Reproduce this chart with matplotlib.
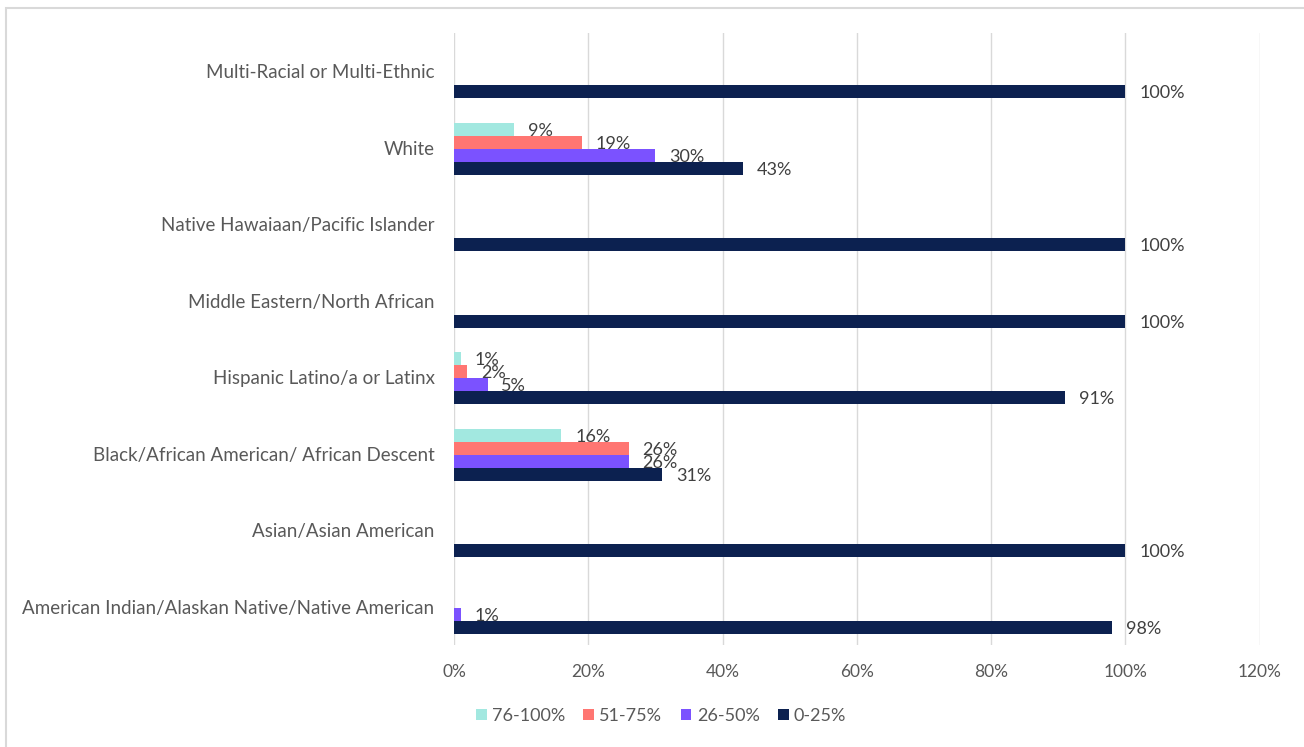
import numpy as np
import matplotlib.pyplot as plt
from matplotlib.patches import Rectangle

plt.rcParams['font.family'] = ['Lato', 'DejaVu Sans']

# data (bottom to top on the chart)
categories = ['American Indian/Alaskan Native/Native American',
              'Asian/Asian American',
              'Black/African American/ African Descent',
              'Hispanic Latino/a or Latinx',
              'Middle Eastern/North African',
              'Native Hawaiaan/Pacific Islander',
              'White',
              'Multi-Racial or Multi-Ethnic']
series = ['0-25%', '26-50%', '51-75%', '76-100%']
vals_0_25 = [98, 100, 31, 91, 100, 100, 43, 100]
vals_26_50 = [1, 0, 26, 5, 0, 0, 30, 0]
vals_51_75 = [0, 0, 26, 2, 0, 0, 19, 0]
vals_76_100 = [0, 0, 16, 1, 0, 0, 9, 0]
colors = ['#0c2150', '#7b52ff', '#ff7672', '#a2e8e0']

all_vals = [vals_0_25, vals_26_50, vals_51_75, vals_76_100]

fig = plt.figure(figsize=(13.04, 7.47), dpi=100)
ax = fig.add_axes([454/1304, 1-645/747, (1259.5-454)/1304, (645-33)/747])

# light frame around the chart
fig.patches.append(Rectangle((6/1304, -0.05), 1.1, 1-8/747+0.05, transform=fig.transFigure,
                             fill=False, edgecolor='#d9d9d9', linewidth=1.5))

y = np.arange(len(categories))
h = 0.17
handles = []
for i, (vals, c, name) in enumerate(zip(all_vals, colors, series)):
    pos = y - 1.5*h + i*h - 0.015
    bars = ax.barh(pos, vals, height=h, color=c, label=name, zorder=3)
    handles.append(bars)
    for p, v in zip(pos, vals):
        if v > 0:
            ax.annotate(f'{v}%', (v, p), xytext=(10, -1), textcoords='offset points',
                        va='center', ha='left', fontsize=13, color='#404040')

ax.set_xlim(0, 120)
ax.set_ylim(-0.5, len(categories)-0.5)
ax.set_xticks(np.arange(0, 121, 20))
ax.set_xticklabels([f'{t}%' for t in range(0, 121, 20)], fontsize=12.5, color='#595959')
ax.set_yticks(y)
ax.set_yticklabels(categories, fontsize=13.5, color='#595959')
ax.tick_params(length=0, axis='y', pad=14)
ax.tick_params(length=0, axis='x', pad=14)
ax.grid(axis='x', color='#d9d9d9', linewidth=1, zorder=0)
for s in ax.spines.values():
    s.set_visible(False)

leg = fig.legend(handles[::-1], series[::-1], loc='center', bbox_to_anchor=(661/1304, 1-716/747),
                 ncol=4, frameon=False, fontsize=13, handlelength=0.6, handleheight=0.6,
                 handletextpad=0.3, columnspacing=1.0)
for t in leg.get_texts():
    t.set_color('#595959')

fig.savefig('out.png', dpi=100)
